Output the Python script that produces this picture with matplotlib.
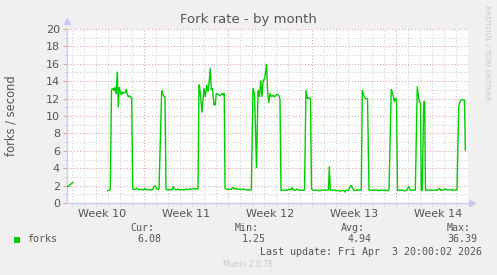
import numpy as np
import matplotlib
matplotlib.use("Agg")
import matplotlib.pyplot as plt
from matplotlib.patches import Rectangle

# ---------------- data ----------------
# time in hours since Monday 00:00 of week 10
HOURS = [14, 18, 22, 26, 28,
         95.4, 100.6, 103, 105.4, 108, 110, 112, 114.6, 116.6, 118.6, 120.6, 122.6, 124.6, 126.6,
         128.6, 130.6, 132.6, 134.6, 136.6, 138.6, 140.6, 143.4, 145.4,
         150, 154, 158, 162, 166, 170, 174, 178, 182, 186, 188, 190, 192, 194, 198,
         203.4, 205.4, 207.4, 210, 212,
         216, 220, 224, 226.6, 229, 232, 236, 240, 244, 248, 252, 256, 260, 264, 268, 272, 276,
         278, 280, 284, 288, 290.6, 293.4, 296, 298, 300.6, 302.6, 305, 308, 310.6, 312.6, 316,
         320, 324, 326.6, 328.6, 330,
         334, 338, 342, 346, 349, 352, 356, 360, 364, 368, 372, 376, 380, 382.6,
         386, 389, 393, 396, 399, 401.4, 404, 406, 410, 413, 415, 417.6, 420, 423, 426, 429,
         432, 435, 438, 440, 442,
         446, 450, 454, 458, 462, 464, 467, 470, 474, 478, 482, 486, 489,
         492, 495, 498, 501, 503,
         506, 510, 514, 518, 522, 526, 530, 534, 537, 538.6, 540.6, 544, 548, 552, 556, 560,
         564, 568, 570, 572, 576, 579, 582.6, 585, 588, 592, 596, 600, 602.6,
         604.6, 608, 611, 615, 618,
         622, 626, 630, 634, 638, 642, 646, 650, 654, 658,
         662.6, 665, 666.6, 669, 670.6, 673, 675,
         678, 682, 686, 690, 694, 697.4, 700, 704, 708, 710.6,
         714.6, 717, 719, 721, 722.6, 724.6, 727.4, 729.4, 731,
         734, 738, 742, 746, 750, 754, 758.6, 762, 766, 770, 774, 778, 782, 786, 790, 794,
         797.4, 801, 805, 809, 810.6]
FORKS = [1.9, 1.95, 2.2, 2.35, np.nan,
         1.4, 1.55, 13.0, 13.2, 12.9, 13.3, 12.5, 15.1, 11.0, 13.3, 12.8, 12.4, 12.8, 12.6,
         12.7, 12.7, 13.1, 12.5, 12.2, 12.3, 12.2, 12.1, 1.6,
         1.55, 1.7, 1.5, 1.6, 1.5, 1.65, 1.5, 1.55, 1.5, 1.6, 1.9, 2.0, 1.8, 1.6, 1.55,
         12.95, 12.6, 12.3, 12.2, 1.6,
         1.5, 1.55, 1.5, 1.9, 1.6, 1.5, 1.6, 1.5, 1.55, 1.5, 1.6, 1.55, 1.6, 1.6, 1.65, 1.6, 1.6,
         13.6, 13.0, 10.4, 13.2, 12.2, 13.6, 12.8, 13.75, 15.5, 13.0, 13.2, 11.26, 11.3, 12.6, 12.5,
         12.3, 12.6, 12.4, 12.6, 1.7,
         1.55, 1.6, 1.55, 1.8, 1.6, 1.7, 1.55, 1.6, 1.55, 1.6, 1.5, 1.5, 1.5, 1.5,
         13.2, 12.5, 4.0, 13.0, 12.2, 14.1, 12.2, 13.9, 14.5, 16.0, 13.0, 11.5, 12.6, 12.2, 12.4, 12.2,
         12.4, 12.5, 12.3, 11.9, 1.45,
         1.45, 1.5, 1.45, 1.6, 1.5, 1.8, 1.5, 1.45, 1.6, 1.45, 1.5, 1.45, 1.5,
         13.0, 12.0, 12.1, 12.0, 1.6,
         1.5, 1.45, 1.5, 1.4, 1.45, 1.5, 1.45, 1.5, 1.5, 4.2, 1.5, 1.45, 1.5, 1.4, 1.45, 1.35,
         1.45, 1.4, 1.25, 1.5, 1.4, 1.7, 2.05, 1.7, 1.45, 1.45, 1.5, 1.45, 1.5,
         13.0, 12.3, 12.0, 12.0, 1.5,
         1.45, 1.5, 1.45, 1.5, 1.4, 1.5, 1.45, 1.5, 1.4, 1.5,
         13.1, 12.6, 12.3, 11.6, 12.0, 12.0, 1.45,
         1.45, 1.5, 1.45, 1.4, 1.5, 1.95, 1.5, 1.45, 1.5, 1.45,
         13.4, 12.2, 11.6, 11.5, 1.4, 1.5, 11.6, 11.7, 1.4,
         1.5, 1.45, 1.5, 1.45, 1.5, 1.45, 1.7, 1.45, 1.5, 1.6, 1.5, 1.5, 1.55, 1.45, 1.5, 1.5,
         11.1, 11.8, 11.9, 11.8, 6.08]

WEEK_LABELS = ["Week 10", "Week 11", "Week 12", "Week 13", "Week 14"]
WEEK_CENTERS = [84, 252, 420, 588, 756]
WEEK_STARTS = [168, 336, 504, 672]
X_RANGE = (14, 816)
Y_RANGE = (0, 20)

SERIES = "forks"
STAT_NAMES = ["Cur:", "Min:", "Avg:", "Max:"]
STAT_VALUES = ["6.08", "1.25", "4.94", "36.39"]
TITLE = "Fork rate - by month"
YLABEL = "forks / second"
LAST_UPDATE = "Last update: Fri Apr  3 20:00:02 2026"
FOOTER = "Munin 2.0.76"
SIDE = "RRDTOOL / TOBI OETIKER"

# ---------------- style ----------------
W, H = 497, 275
BG = "#F0F0F0"
GREEN = "#00CC00"
TXT = "#555555"
MINOR_C = "#D0D0D0"
MAJOR_C = "#E8A0A0"
AXIS_C = "#C8C8F0"

fig = plt.figure(figsize=(W / 100, H / 100), dpi=100, facecolor=BG)

def fx(px):
    return px / W

def fy(py):
    return 1 - py / H

L, R, T, B = 67, 468, 29, 203
ax = fig.add_axes([fx(L), fy(B), fx(R) - fx(L), fy(T) - fy(B)])
ax.set_facecolor("white")
ax.set_xlim(*X_RANGE)
ax.set_ylim(*Y_RANGE)

dots = (0, (1, 2))
GLW = 0.75
# grid
for h in range(24, X_RANGE[1], 24):
    if h in WEEK_STARTS:
        continue
    ax.axvline(h, color=MINOR_C, lw=GLW, ls=dots, zorder=1)
for h in WEEK_STARTS:
    ax.axvline(h, color=MAJOR_C, lw=GLW, ls=dots, zorder=1)
for v in range(1, 21):
    ax.axhline(v, color=MAJOR_C if v % 2 == 0 else MINOR_C, lw=GLW, ls=dots, zorder=1)

ax.plot(HOURS, FORKS, color=GREEN, lw=1.0, zorder=3, solid_joinstyle="miter")

# axes
for s in ["top", "right"]:
    ax.spines[s].set_visible(False)
for s in ["left", "bottom"]:
    ax.spines[s].set_color(AXIS_C)
    ax.spines[s].set_linewidth(0.9)
ax.plot([0], [1.045], marker="^", color=AXIS_C, ms=4, transform=ax.transAxes, clip_on=False)
ax.plot([1.01], [0], marker=">", color=AXIS_C, ms=4, transform=ax.transAxes, clip_on=False)

ax.set_yticks(range(0, 21, 2))
ax.set_yticks(range(0, 21, 1), minor=True)
ax.set_xticks(WEEK_CENTERS)
ax.set_xticklabels(WEEK_LABELS)
ax.set_xticks(list(range(24, X_RANGE[1], 24)), minor=True)
ax.tick_params(axis="y", which="major", length=3, color=MAJOR_C, labelsize=8, labelcolor=TXT, pad=2)
ax.tick_params(axis="y", which="minor", length=2, color=MINOR_C)
ax.tick_params(axis="x", which="major", length=0, labelsize=8, labelcolor=TXT, pad=4)
ax.tick_params(axis="x", which="minor", length=2, color=MINOR_C)

# texts
fig.text(fx(248), fy(19), TITLE, ha="center", va="center", fontsize=9.5, color=TXT)
fig.text(fx(11), fy(116), YLABEL, ha="center", va="center", rotation=90, fontsize=8.3, color=TXT)
fig.text(fx(487), fy(53), SIDE, ha="center", va="center", rotation=270, fontsize=5.4, color="#C8C8C8")

mono = "DejaVu Sans Mono"
fig.patches.append(Rectangle((fx(14), fy(243)), fx(6), fy(237) - fy(243), transform=fig.transFigure,
                             facecolor=GREEN, edgecolor="none"))
fig.text(fx(27), fy(239.5), SERIES, ha="left", va="center", fontsize=7.2, family=mono, color=TXT)
label_right = [154.5, 258.5, 365, 471]
value_right = [161, 266, 372, 477.5]
for name, val, lr, vr in zip(STAT_NAMES, STAT_VALUES, label_right, value_right):
    fig.text(fx(lr), fy(228), name, ha="right", va="center", fontsize=7.2, family=mono, color=TXT)
    fig.text(fx(vr), fy(239.5), val, ha="right", va="center", fontsize=7.2, family=mono, color=TXT)
fig.text(fx(482), fy(252), LAST_UPDATE, ha="right", va="center", fontsize=7.2, family=mono, color=TXT)
fig.text(fx(248), fy(264.5), FOOTER, ha="center", va="center", fontsize=5.5, color="#C8C8C8")

fig.savefig("out.png", dpi=100, facecolor=BG)
